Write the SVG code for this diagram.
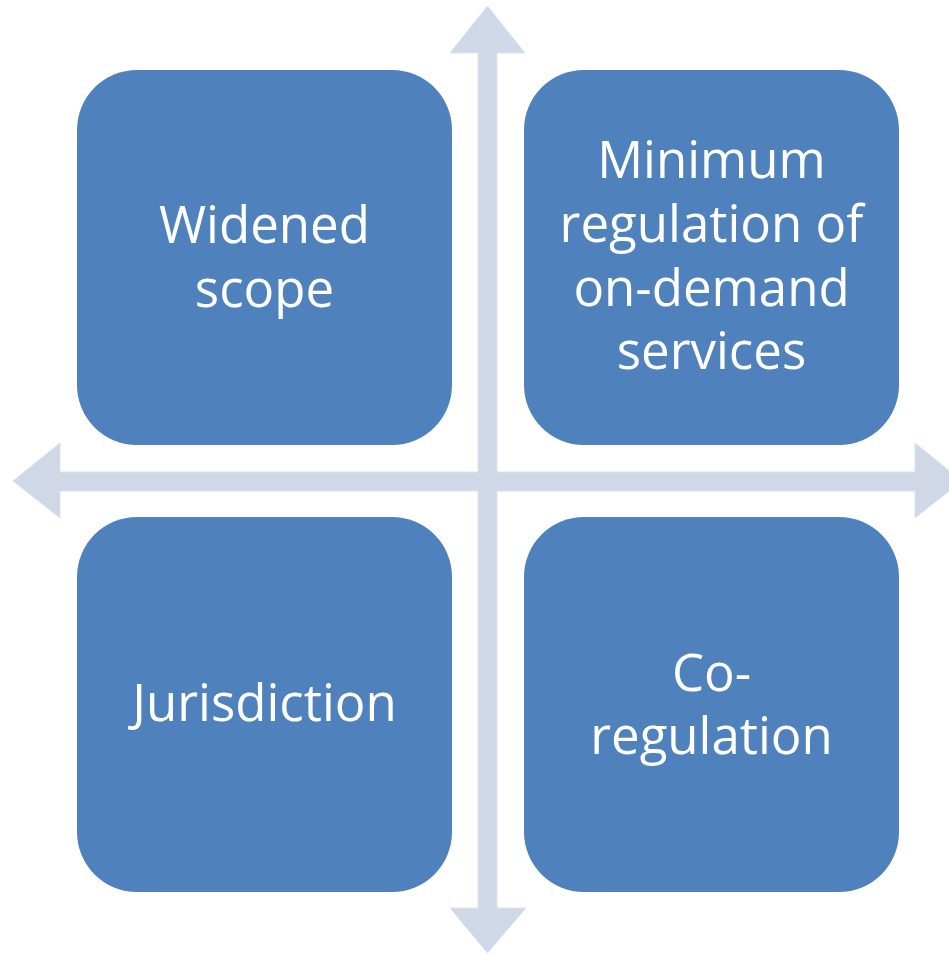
<svg xmlns="http://www.w3.org/2000/svg" width="949" height="954" viewBox="0 0 949 954">
<style>
.box{fill:#4F81BD;}
.lbl{fill:#FFFFFF;font-family:"Open Sans","Liberation Sans",sans-serif;font-size:51px;text-anchor:middle;}
.arrow{fill:#D0D8E8;stroke:#DCE3EE;stroke-width:1;}
</style>
<rect width="949" height="954" fill="#FFFFFF"/>
<g id="connectors">
<polygon class="arrow" points="487.5,6 525,53 497,53 497,472 915,472 915,443 962,481 915,518 915,491 497,491 497,908 526,908 487.5,953 450,908 478,908 478,491 60,491 60,518 13,481 60,443 60,472 478,472 478,53 450,53"/>
</g>
<g id="node-widened-scope">
<rect class="box" x="77" y="70" width="375" height="375" rx="60" ry="60"/>
<text class="lbl" x="264.5" y="243">Widened</text>
<text class="lbl" x="264.5" y="307">scope</text>
</g>
<g id="node-minimum-regulation">
<rect class="box" x="524" y="70" width="375" height="375" rx="60" ry="60"/>
<text class="lbl" x="711.5" y="178">Minimum</text>
<text class="lbl" x="711.5" y="242">regulation of</text>
<text class="lbl" x="711.5" y="306">on-demand</text>
<text class="lbl" x="711.5" y="369">services</text>
</g>
<g id="node-jurisdiction">
<rect class="box" x="77" y="517" width="375" height="375" rx="60" ry="60"/>
<text class="lbl" x="264.5" y="721">Jurisdiction</text>
</g>
<g id="node-co-regulation">
<rect class="box" x="524" y="517" width="375" height="375" rx="60" ry="60"/>
<text class="lbl" x="711.5" y="691">Co-</text>
<text class="lbl" x="711.5" y="754">regulation</text>
</g>
</svg>
